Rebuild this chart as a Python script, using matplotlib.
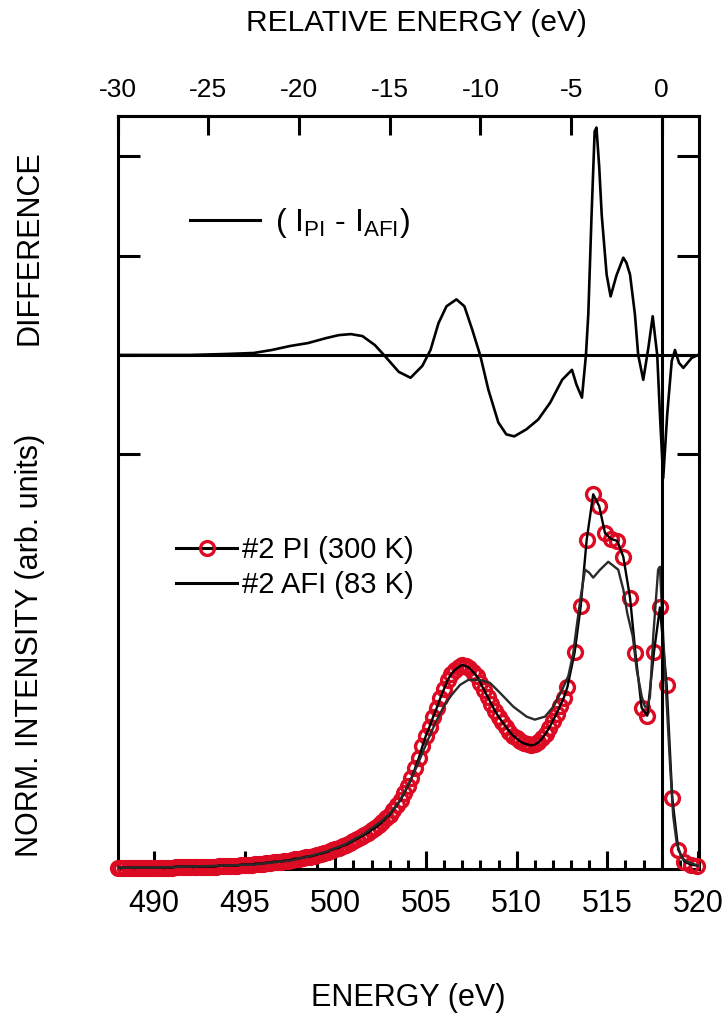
import matplotlib
matplotlib.use("Agg")
import matplotlib.pyplot as plt
from matplotlib.legend_handler import HandlerTuple
from matplotlib.lines import Line2D

plt.rcParams['font.family'] = ['Liberation Sans', 'DejaVu Sans']
plt.rcParams['mathtext.fontset'] = 'custom'
plt.rcParams['mathtext.rm'] = 'Liberation Sans'
plt.rcParams['mathtext.it'] = 'Liberation Sans'

# ---------------- data ----------------
# PI (300 K) intensity, open red circles + black line
pi_energy = [488.0, 488.2, 488.4, 488.6, 488.8, 489.0, 489.2, 489.4, 489.6, 489.8,
             490.0, 490.2, 490.4, 490.6, 490.8, 491.0, 491.2, 491.4, 491.6, 491.8,
             492.0, 492.2, 492.4, 492.6, 492.8, 493.0, 493.2, 493.4, 493.6, 493.8,
             494.0, 494.2, 494.4, 494.6, 494.8, 495.0, 495.2, 495.4, 495.6, 495.8,
             496.0, 496.2, 496.4, 496.6, 496.8, 497.0, 497.2, 497.4, 497.6, 497.8,
             498.0, 498.2, 498.4, 498.6, 498.8, 499.0, 499.2, 499.4, 499.6, 499.8,
             500.0, 500.2, 500.4, 500.6, 500.8, 501.0, 501.2, 501.4, 501.6, 501.8,
             502.0, 502.2, 502.4, 502.6, 502.8, 503.0, 503.2, 503.4, 503.6, 503.8,
             504.0, 504.2, 504.4, 504.6, 504.8, 505.0, 505.2, 505.4, 505.6, 505.8,
             506.0, 506.2, 506.4, 506.6, 506.8, 507.0, 507.2, 507.4, 507.6, 507.8,
             508.0, 508.2, 508.4, 508.6, 508.8, 509.0, 509.2, 509.4, 509.6, 509.8,
             510.0, 510.2, 510.4, 510.6, 510.8, 511.0, 511.2, 511.4, 511.6, 511.8,
             512.0, 512.2, 512.4, 512.6, 512.8, 513.2, 513.53, 513.86, 514.22, 514.55,
             514.87, 515.2, 515.55, 515.88, 516.25, 516.55, 516.89, 517.2, 517.57, 517.9,
             518.27, 518.58, 518.91, 519.25, 519.6, 519.92]
pi_intensity = [0.00, 0.00, 0.00, 0.00, 0.00, 0.00, 0.00, 0.00, 0.00, 0.00,
                0.00, 0.00, 0.00, 0.00, 0.00, 0.00, 0.01, 0.01, 0.01, 0.01,
                0.01, 0.01, 0.01, 0.01, 0.01, 0.01, 0.01, 0.01, 0.02, 0.02,
                0.02, 0.02, 0.02, 0.02, 0.03, 0.03, 0.03, 0.03, 0.04, 0.04,
                0.04, 0.05, 0.05, 0.06, 0.06, 0.06, 0.07, 0.07, 0.08, 0.09,
                0.09, 0.10, 0.11, 0.11, 0.12, 0.13, 0.14, 0.15, 0.16, 0.18,
                0.19, 0.20, 0.22, 0.23, 0.25, 0.27, 0.29, 0.31, 0.33, 0.35,
                0.38, 0.40, 0.43, 0.46, 0.50, 0.53, 0.58, 0.63, 0.68, 0.75,
                0.82, 0.90, 1.00, 1.10, 1.22, 1.33, 1.42, 1.52, 1.61, 1.71,
                1.80, 1.89, 1.95, 1.99, 2.02, 2.04, 2.03, 2.01, 1.97, 1.93,
                1.86, 1.79, 1.72, 1.65, 1.58, 1.52, 1.47, 1.42, 1.37, 1.33,
                1.30, 1.27, 1.25, 1.24, 1.23, 1.24, 1.26, 1.30, 1.35, 1.41,
                1.48, 1.55, 1.63, 1.71, 1.82, 2.17, 2.63, 3.30, 3.76, 3.64,
                3.37, 3.31, 3.29, 3.13, 2.72, 2.16, 1.61, 1.53, 2.17, 2.62,
                1.84, 0.70, 0.18, 0.06, 0.03, 0.02]

# AFI (83 K) intensity, black line
afi_energy = [488.0, 490.0, 492.0, 494.0, 495.5, 496.5, 497.5, 498.5, 499.5, 500.5,
              501.5, 502.5, 503.0, 503.5, 504.0, 504.5, 505.0, 505.5, 506.0, 506.42,
              506.88, 507.33, 507.98, 508.53, 509.08, 509.82, 510.55, 511.0, 511.56, 512.02,
              512.48, 512.85, 513.12, 513.31, 513.55, 513.77, 514.0, 514.22, 514.6, 515.05,
              515.6, 515.88, 516.1, 516.4, 516.62, 516.9, 517.07, 517.2, 517.35, 517.53,
              517.8, 517.9, 518.08, 518.27, 518.45, 518.63, 518.82, 519.1, 519.37, 520.0]
afi_intensity = [0.00, 0.00, 0.01, 0.02, 0.03, 0.05, 0.07, 0.11, 0.16, 0.23,
                 0.33, 0.46, 0.54, 0.66, 0.82, 1.02, 1.24, 1.45, 1.63, 1.74,
                 1.84, 1.89, 1.89, 1.86, 1.76, 1.62, 1.52, 1.49, 1.52, 1.62,
                 1.78, 1.93, 2.16, 2.43, 2.75, 3.00, 2.97, 2.92, 3.00, 3.08,
                 3.00, 2.80, 2.56, 2.33, 1.99, 1.72, 1.62, 1.62, 1.72, 2.33,
                 3.00, 3.03, 2.33, 1.66, 1.06, 0.52, 0.25, 0.10, 0.06, 0.02]

# Difference (I_PI - I_AFI), own scale, drawn around an offset baseline
diff_energy = [488.0, 490.0, 492.0, 494.0, 495.5, 496.5, 497.5, 498.5, 499.5, 500.2,
               500.86, 501.5, 502.18, 502.73, 503.5, 504.15, 504.8, 505.25, 505.69, 506.13,
               506.68, 507.12, 507.56, 508.0, 508.44, 508.99, 509.43, 509.87, 510.53, 511.19,
               511.85, 512.51, 513.05, 513.3, 513.6, 513.82, 513.95, 514.13, 514.3, 514.4,
               514.55, 514.69, 514.96, 515.18, 515.5, 515.88, 516.05, 516.25, 516.52, 516.7,
               516.98, 517.26, 517.5, 517.75, 517.9, 518.08, 518.3, 518.55, 518.73, 518.95,
               519.19, 519.65, 520.0]
diff_values = [0.00, 0.00, 0.00, 0.01, 0.02, 0.05, 0.09, 0.12, 0.17, 0.20,
               0.21, 0.19, 0.10, -0.01, -0.17, -0.23, -0.11, 0.05, 0.32, 0.49,
               0.56, 0.49, 0.25, -0.01, -0.35, -0.68, -0.80, -0.82, -0.75, -0.65,
               -0.48, -0.25, -0.15, -0.30, -0.43, 0.00, 0.41, 1.41, 2.25, 2.29,
               1.90, 1.41, 0.81, 0.59, 0.80, 0.98, 0.93, 0.81, 0.41, 0.00,
               -0.25, 0.07, 0.39, 0.00, -0.60, -1.24, -0.60, -0.06, 0.05, -0.08,
               -0.13, -0.03, 0.00]

diff_offset = 5.163
edge_energy = 518.0
bottom_ticks = [490, 495, 500, 505, 510, 515, 520]
top_ticks = [-30, -25, -20, -15, -10, -5, 0]
diff_ticks = [-1, 0, 1, 2]

red = '#dc0a22'

# ---------------- figure ----------------
fig = plt.figure(figsize=(7.27, 10.13), dpi=100)
ax = fig.add_axes([0.1618, 0.1426, 0.8001, 0.7429])

diff_y = [diff_offset + v for v in diff_values]
ax.plot(pi_energy, pi_intensity, linestyle='none', marker='o', ms=10,
        mfc='none', mec=red, mew=2.4, zorder=3, clip_on=False)
ax.plot(pi_energy, pi_intensity, color='black', lw=1.7, zorder=4)
ax.plot(afi_energy, afi_intensity, color='#2a2a2a', lw=1.7, zorder=4)
ax.plot(diff_energy, diff_y, color='black', lw=1.9, zorder=4)

ax.axhline(diff_offset, color='black', lw=2.2, zorder=5)
ax.axvline(edge_energy, color='black', lw=2.2, zorder=5)

ax.set_xlim(488.0, 520.07)
ax.set_ylim(-0.01, 7.57)

ax.set_xticks(bottom_ticks)
ax.set_xticklabels([str(t) for t in bottom_ticks])
ax.set_xticks(list(range(489, 520)), minor=True)
ax.set_yticks([diff_offset + t for t in diff_ticks])
ax.set_yticklabels([])
ax.tick_params(axis='x', which='major', direction='in', length=13, width=2.2,
               labelsize=22, pad=14.5, top=False)
ax.tick_params(axis='x', which='minor', direction='in', length=6.5, width=2.2, top=False)
ax.tick_params(axis='y', which='major', direction='in', length=16, width=2.2,
               left=True, right=True)
for s in ax.spines.values():
    s.set_linewidth(2.2)

sec = ax.secondary_xaxis('top', functions=(lambda e: e - edge_energy,
                                           lambda r: r + edge_energy))
sec.set_xticks(top_ticks)
sec.set_xticklabels([str(t) for t in top_ticks])
sec.tick_params(axis='x', which='major', direction='in', length=14, width=2.2,
                labelsize=19, pad=10)
sec.tick_params(axis='x', which='minor', length=0)
sec.spines['top'].set_linewidth(2.2)

fig.text(416 / 727, 1 - 31 / 1013, 'RELATIVE ENERGY (eV)', fontsize=21.5,
         ha='center', va='baseline')
fig.text(408 / 727, 1 - 1006 / 1013, 'ENERGY (eV)', fontsize=22,
         ha='center', va='baseline')
fig.text(0.041, 1 - 247.5 / 1013, 'DIFFERENCE', rotation=90, fontsize=22,
         ha='center', va='center')
fig.text(0.041, 1 - 645.5 / 1013, 'NORM. INTENSITY (arb. units)', rotation=90,
         fontsize=22, ha='center', va='center')

# legends
h_diff = Line2D([], [], color='black', lw=2.2)
leg1 = ax.legend([h_diff], ['( I$_{\\mathrm{PI}}$ - I$_{\\mathrm{AFI}}$)'],
                 loc='center left', bbox_to_anchor=(0.1245, 0.8574), frameon=False,
                 fontsize=23, handlelength=2.2, handletextpad=0.45,
                 borderpad=0, borderaxespad=0)
ax.add_artist(leg1)

h_pi_line = Line2D([], [], color='black', lw=2.2)
h_pi_mark = Line2D([], [], linestyle='none', marker='o', ms=10, mfc='none',
                   mec=red, mew=2.4)
h_afi = Line2D([], [], color='black', lw=2.2)
ax.legend([(h_pi_line, h_pi_mark), h_afi], ['#2 PI (300 K)', '#2 AFI (83 K)'],
          handler_map={tuple: HandlerTuple(ndivide=1)},
          loc='center left', bbox_to_anchor=(0.1004, 0.400), frameon=False,
          fontsize=21, handlelength=2.1, handletextpad=0.15, labelspacing=0.22,
          borderpad=0, borderaxespad=0)

fig.savefig('out.png', dpi=100)
